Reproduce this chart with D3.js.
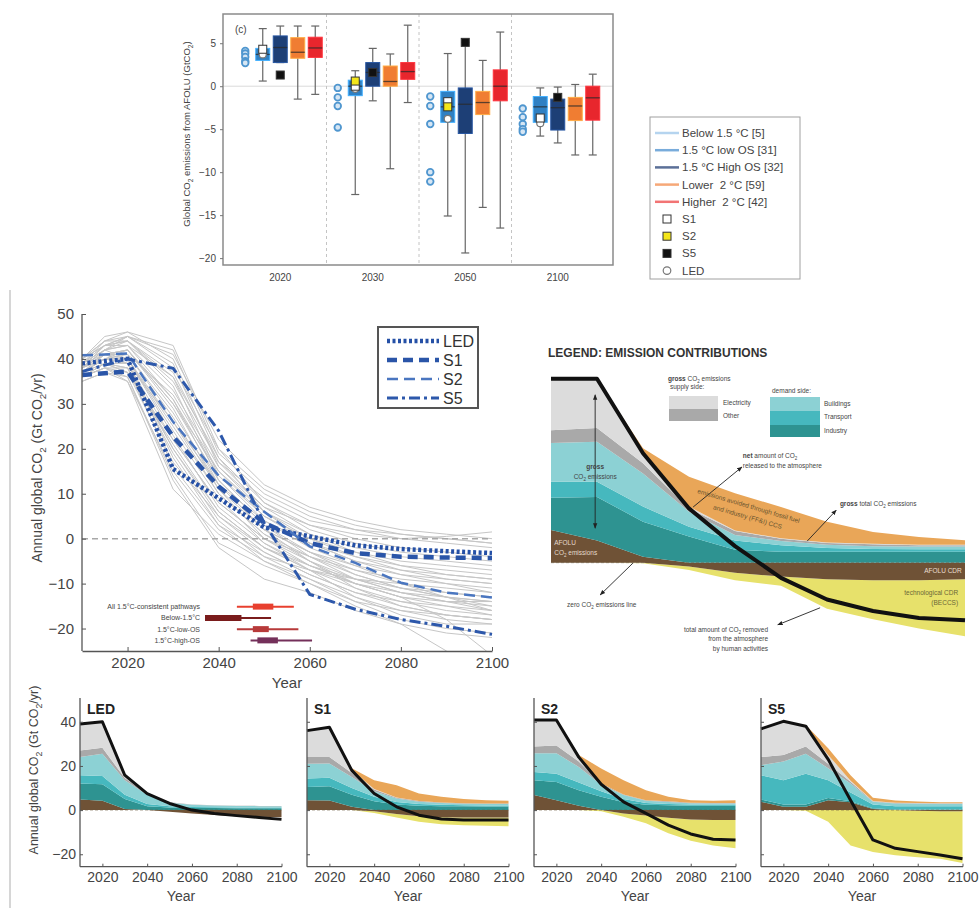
<!DOCTYPE html>
<html>
<head>
<meta charset="utf-8">
<script src="https://cdn.jsdelivr.net/npm/d3@7"></script>
<style>
body { margin: 0; background: #fff; }
text { font-family: "Liberation Sans", Arial, sans-serif; white-space: pre; }
</style>
</head>
<body>
<svg id="fig"></svg>
<script>
// ---------------- data ----------------
// top box plot (AFOLU CO2, GtCO2)
var boxGroups = ["2020", "2030", "2050", "2100"];
var boxCats = ["Below 1.5 °C [5]", "1.5 °C low OS [31]", "1.5 °C High OS [32]", "Lower\u00a0 2 °C [59]", "Higher\u00a0 2 °C [42]"];
// [low whisker, q1, median, q3, high whisker] per group
var lowOS   = [[0.6, 3.0, 3.7, 4.4, 6.7], [-12.6, -1.1, 0.0, 0.7, 1.8], [-15.1, -4.2, -2.4, -0.6, 3.8], [-5.8, -4.2, -2.4, -1.2, -0.2]];
var highOS  = [[2.75, 2.75, 4.5, 5.85, 7.0], [-1.7, 0.0, 1.6, 2.75, 4.4], [-19.4, -5.5, -2.1, -0.2, 5.1], [-6.6, -5.1, -2.5, -1.5, -0.1]];
var lower2  = [[-1.5, 3.25, 3.95, 5.65, 7.0], [-9.6, 0.0, 0.55, 2.35, 3.75], [-14.1, -3.3, -1.9, -0.6, 3.0], [-8.0, -4.0, -2.3, -1.3, 0.2]];
var higher2 = [[-0.95, 3.35, 4.45, 5.7, 7.0], [-1.9, 0.8, 1.7, 2.75, 7.1], [-16.5, -1.7, 0.0, 1.9, 6.3], [-8.0, -3.95, -1.35, 0.0, 1.4]];
var below15 = [[4.1, 3.8, 3.4, 2.9, 2.7], [-0.2, -1.3, -2.3, -4.8], [-1.2, -2.3, -4.4, -10.0, -11.1], [-2.6, -3.6, -4.4, -5.0, -5.3]];
var s1Marks  = [4.3, 0.0, -1.8, -3.7];
var s2Marks  = [null, 0.6, -2.4, null];
var s5Marks  = [1.3, 1.6, 5.1, -1.3];
var ledMarks = [3.7, -0.3, -3.8, -4.3];
var markerNames = ["S1", "S2", "S5", "LED"];

// middle: pathways (Gt CO2/yr)
var decades = [2010, 2020, 2030, 2040, 2050, 2060, 2070, 2080, 2090, 2100];
var grayYears = [2010, 2015, 2020, 2030, 2040, 2050, 2060, 2070, 2080, 2090, 2100];
var grayPathways = [
  [38, 41, 42, 30, 15, 5, 0, -3, -5, -6, -7],
  [39, 43, 45, 38, 20, 8, 2, -1, -3, -4, -5],
  [36, 38, 37, 22, 8, 0, -4, -7, -9, -10, -11],
  [40, 44, 46, 40, 18, 6, -1, -5, -8, -10, -12],
  [37, 40, 41, 28, 12, 2, -3, -6, -8, -9, -10],
  [35, 37, 35, 15, 2, -4, -7, -9, -10, -11, -12],
  [38, 42, 43, 33, 16, 7, 3, 1, 0, 0.5, 1.5],
  [39, 42, 44, 35, 17, 9, 4, 2, 1, 0, -1],
  [36, 39, 38, 20, 5, -3, -8, -12, -14, -15, -16],
  [37, 41, 40, 25, 10, 1, -5, -10, -13, -15, -17],
  [40, 43, 45, 42, 19, 10, 5, 2, 0, -1, -2],
  [38, 40, 39, 18, 3, -5, -10, -14, -16, -17, -18],
  [36, 38, 36, 14, -1, -6, -10, -15, -19, -25, -30],
  [39, 43, 44, 36, 14, 4, -2, -6, -10, -13, -15],
  [37, 40, 42, 30, 13, 3, -4, -9, -12, -14, -14],
  [38, 41, 41, 27, 11, 0, -6, -10, -13, -14, -15],
  [36, 39, 37, 21, 6, -2, -7, -11, -14, -16, -17],
  [40, 45, 46, 43, 20, 11, 6, 3, 1, 0, -1],
  [38, 42, 40, 24, 9, -1, -7, -13, -17, -19, -19],
  [37, 40, 39, 26, 12, 4, -1, -5, -7, -8, -9],
  [39, 42, 43, 31, 14, 5, -1, -4, -6, -7, -8],
  [36, 38, 38, 19, 4, -4, -9, -14, -18, -20, -21],
  [38, 41, 42, 29, 11, 2, -3, -7, -10, -12, -13],
  [37, 39, 38, 16, 3, -3, -8, -12, -15, -17, -18],
  [40, 44, 44, 37, 17, 7, 1, -3, -6, -8, -9],
  [35, 37, 36, 13, -2, -9, -12, -16, -19, -21, -22],
  [38, 42, 45, 39, 16, 6, 0, -4, -7, -9, -10],
  [37, 40, 40, 23, 7, -1, -6, -9, -11, -12, -13],
  [39, 41, 41, 32, 15, 6, 1, -2, -4, -5, -6],
  [36, 39, 39, 20, 6, -2, -6, -10, -13, -18, -26],
  [38, 43, 44, 34, 13, 3, -3, -8, -11, -13, -14],
  [37, 39, 37, 17, 5, -2, -7, -10, -12, -13, -14],
  [40, 43, 43, 36, 18, 8, 3, 0, -2, -3, -4],
  [38, 40, 40, 26, 10, 1, -4, -8, -11, -13, -16],
  [36, 38, 35, 11, 1, -5, -9, -13, -16, -18, -19],
  [39, 44, 45, 41, 22, 12, 7, 4, 2, 1, 0],
  [37, 41, 42, 31, 12, 2, -5, -11, -15, -17, -18],
  [38, 41, 39, 22, 8, 0, -5, -9, -12, -14, -16]
];
var scenarioNames = ["LED", "S1", "S2", "S5"];
var ledPath = [39, 40, 15.5, 9, 2.5, 0.5, -1.5, -2.3, -2.8, -3.2];
var s1Path  = [36.4, 37.2, 22.7, 11.6, 3.5, -1, -3.2, -4, -4.2, -4.3];
var s2Path  = [40.8, 41.2, 26, 14, 6, -1.7, -5.4, -9.8, -12, -13.1];
var s5Path  = [37.2, 40, 37.9, 24, 3.5, -12.4, -15.7, -18, -19.5, -21.3];

// timing of net zero
var timingLabels = ["All 1.5°C-consistent pathways", "Below-1.5°C", "1.5°C-low-OS", "1.5°C-high-OS"];
var timingRange = [[2044, 2056.5], [2037, 2051.5], [2044, 2057.5], [2047, 2060.5]];
var timingIQR   = [[2047.5, 2052], [2037, 2045], [2047.5, 2051], [2048.5, 2053]];

// schematic legend (illustrative values)
var schemNet   = [40, 40, 23.8, 11.8, 3.6, -3.3, -8, -10.5, -12, -12.5];
var schemAfolu = [7.1, 4.8, 1.3, -0.8, -2.2, -3.0, -3.6, -3.8, -3.8, -3.6];
var schemInd   = [7.0, 9.5, 7.6, 5.7, 2.8, 2.4, 2.4, 2.4, 2.4, 2.4];
var schemTra   = [3.5, 3.3, 3.3, 2.1, 2.0, 1.4, 0.8, 0.6, 0.5, 0.5];
var schemBld   = [8.4, 8.7, 7.2, 3.3, 1.2, 0.9, 0.7, 0.6, 0.6, 0.6];
var schemOth   = [2.8, 3.0, 2.2, 0.7, 0.9, 0.5, 0.4, 0.4, 0.3, 0.3];
var schemEle   = [11.1, 10.7, 2.2, 0.4, 0.1, 0.1, 0.1, 0.1, 0.1, 0.1];
var schemCcs   = [0, 0, 1.1, 6.5, 8.1, 6.8, 4.5, 2.6, 1.7, 1.0];
var schemBeccs = [0, 0, -0.1, -0.8, -1.6, -2.0, -6.4, -8.5, -10.5, -12.4];

// bottom panels: LED, S1, S2, S5
var netCO2 = [
  [39, 40, 15.8, 7.5, 3, 0, -1.5, -2.5, -3.3, -4.2],
  [36, 37.5, 18, 7.5, 1.5, -2.3, -4, -4.5, -4.5, -4.5],
  [40.8, 40.8, 24, 11.7, 3.7, -1.5, -6.8, -10.8, -13.2, -13.5],
  [36.8, 40.2, 38, 23, 4.5, -13.5, -17.3, -18.8, -20.3, -22]
];
var afoluBand = [
  [4.8, 4.2, 0.5, 0, -0.8, -1.5, -2.2, -2.8, -3.0, -3.2],
  [4.5, 4.3, 1.5, -0.5, -1.8, -2.8, -3.2, -3.3, -3.3, -3.3],
  [6.8, 4.5, 2, 0, -1.5, -2.5, -3.5, -4.3, -4.5, -4.5],
  [3.8, 1.5, 1.5, 4.5, 3.5, 0.5, 0, -0.3, -0.5, -0.5]
];
var industryBand = [
  [7.2, 7.5, 4.5, 1.8, 1.2, 1.0, 0.9, 0.8, 0.8, 0.8],
  [6, 6.5, 5.5, 4.0, 2.5, 2.0, 1.8, 1.7, 1.6, 1.6],
  [6.7, 8.2, 7, 6, 3.5, 2.4, 2.2, 2.0, 2.0, 2.0],
  [1, 1, 1, 1, 0.5, 0.3, 0.3, 0.3, 0.3, 0.3]
];
var transportBand = [
  [3.8, 3.8, 2.0, 1.0, 0.6, 0.4, 0.4, 0.4, 0.4, 0.4],
  [3.8, 3.8, 3.0, 2.0, 1.2, 0.8, 0.6, 0.5, 0.5, 0.5],
  [3.8, 3.8, 3.5, 2.5, 1.5, 0.8, 0.6, 0.5, 0.5, 0.5],
  [11, 11, 14, 8, 4, 1.7, 1.5, 1.5, 1.5, 1.5]
];
var buildingsBand = [
  [8.2, 10.0, 6.5, 4.2, 1.5, 1.0, 0.8, 0.7, 0.6, 0.6],
  [6.7, 6.5, 5.0, 2.5, 1.5, 1.0, 0.8, 0.7, 0.7, 0.7],
  [8.5, 9.3, 7, 3, 1.8, 1.0, 0.9, 0.6, 0.5, 0.5],
  [4.5, 8.5, 9, 5.5, 4, 1.3, 1.2, 1.1, 1.0, 1.0]
];
var otherBand = [
  [3.0, 2.7, 1.0, 0.4, 0.2, 0.1, 0.1, 0.1, 0.1, 0.1],
  [3, 3, 1.8, 0.8, 0.4, 0.3, 0.2, 0.2, 0.2, 0.2],
  [3, 3.5, 2.5, 0.5, 0.3, 0.3, 0.3, 0.2, 0.2, 0.2],
  [3.7, 3, 3.3, 2, 0.8, 0.2, 0.2, 0.2, 0.2, 0.2]
];
var electricityBand = [
  [12, 11.8, 1.3, 0.1, 0, 0, 0, 0, 0, 0],
  [12, 13.4, 1.2, 0.2, 0.1, 0, 0, 0, 0, 0],
  [12, 11.5, 2, 0, 0, 0, 0, 0, 0, 0],
  [12.8, 15.2, 9.2, 4, 0.5, 0.1, 0.1, 0.1, 0.1, 0.1]
];
var ccsBand = [
  [0, 0, 0, 0, 0, 0, 0, 0, 0, 0],
  [0, 0, 1, 4, 5.6, 3.4, 2.6, 1.9, 1.5, 1.2],
  [0, 0, 1, 6.8, 6.4, 4.5, 2, 1.2, 1, 1.3],
  [0, 0, 0.5, 3, 2.5, 1.5, 1.0, 0.7, 0.5, 0.5]
];
var beccsBand = [
  [0, 0, 0, 0, 0, 0, 0, 0, 0, 0],
  [0, 0, 0, -0.8, -1.5, -2.5, -3.2, -3.6, -3.8, -4],
  [0, 0, 0, -0.5, -1.5, -3.5, -7, -9.6, -11.5, -12.8],
  [0, 0, -0.3, -5.3, -16, -19, -20.5, -21, -21.5, -23.5]
];

// ---------------- setup ----------------
var W = 979, H = 908;
var svg = d3.select("#fig").attr("width", W).attr("height", H);
svg.append("rect").attr("width", W).attr("height", H).attr("fill", "#fff");

var defs = svg.append("defs");
defs.append("marker").attr("id", "arr").attr("viewBox", "0 0 10 10")
  .attr("refX", 9).attr("refY", 5).attr("markerWidth", 6).attr("markerHeight", 6)
  .attr("orient", "auto-start-reverse")
  .append("path").attr("d", "M0,1 L10,5 L0,9 z").attr("fill", "#222");

// text with "_2" as subscript 2
function rich(sel, str, fs) {
  var parts = str.split("_2"), shift = 0;
  parts.forEach(function(p, i) {
    if (p.length) { sel.append("tspan").attr("dy", -shift).text(p); shift = 0; }
    if (i < parts.length - 1) {
      sel.append("tspan").attr("font-size", fs * 0.7).attr("dy", fs * 0.28 - shift).text("2");
      shift = fs * 0.28;
    }
  });
  return sel;
}

function styleAxis(g, col, fs) {
  g.select(".domain").attr("stroke", col).attr("stroke-width", 1.3);
  g.selectAll(".tick line").attr("stroke", col);
  g.selectAll(".tick text").attr("fill", "#444").attr("font-size", fs)
    .attr("font-family", "Liberation Sans, Arial, sans-serif");
}

// ---------------- top box plot ----------------
var gTop = svg.append("g");
var bx = d3.scaleBand().domain(boxGroups).range([234, 604]);
var bin = d3.scaleBand().domain(d3.range(5)).range([-43.75, 43.75]);
var by = d3.scaleLinear().domain([-20.8, 8.4]).range([265, 14]);
function bcx(gi, ci) { return bx(boxGroups[gi]) + bx.bandwidth() / 2 + bin(ci) + bin.bandwidth() / 2; }
var boxColors = ["#5b9fd4", "#2f80c3", "#1d3f76", "#f07d32", "#e8262d"];
var legendLineColors = ["#b5d4ef", "#79acdb", "#5b7098", "#f6a878", "#f27474"];

gTop.append("line").attr("x1", 223).attr("x2", 613).attr("y1", by(0)).attr("y2", by(0))
  .attr("stroke", "#dadada");
boxGroups.slice(1).forEach(function(g) {
  gTop.append("line").attr("x1", bx(g)).attr("x2", bx(g)).attr("y1", 14).attr("y2", 265)
    .attr("stroke", "#c4c4c4").attr("stroke-dasharray", "3,3");
});

var boxStats = [lowOS, highOS, lower2, higher2];
boxStats.forEach(function(stats, k) {
  var ci = k + 1;
  stats.forEach(function(s, gi) {
    var cx = bcx(gi, ci), hw = 7;
    gTop.append("line").attr("x1", cx).attr("x2", cx).attr("y1", by(s[0])).attr("y2", by(s[4]))
      .attr("stroke", "#666").attr("stroke-width", 1.2);
    [s[0], s[4]].forEach(function(v) {
      gTop.append("line").attr("x1", cx - 4).attr("x2", cx + 4).attr("y1", by(v)).attr("y2", by(v))
        .attr("stroke", "#666").attr("stroke-width", 1.2);
    });
    gTop.append("rect").attr("x", cx - hw).attr("width", 2 * hw)
      .attr("y", by(s[3])).attr("height", by(s[1]) - by(s[3]))
      .attr("fill", boxColors[ci]).attr("stroke", d3.color(boxColors[ci]).brighter(0.9)).attr("stroke-width", 1);
    gTop.append("line").attr("x1", cx - hw).attr("x2", cx + hw).attr("y1", by(s[2])).attr("y2", by(s[2]))
      .attr("stroke", "#2a2a2a").attr("stroke-opacity", 0.75).attr("stroke-width", 1.3);
  });
});

below15.forEach(function(vals, gi) {
  gTop.selectAll(null).data(vals).enter().append("circle")
    .attr("cx", bcx(gi, 0)).attr("cy", function(d) { return by(d); }).attr("r", 3.3)
    .attr("fill", "#d6e6f4").attr("stroke", "#4f96cf").attr("stroke-width", 1.8);
});

function square(g, x, y, fill) {
  g.append("rect").attr("x", x - 4).attr("y", y - 4).attr("width", 8).attr("height", 8)
    .attr("fill", fill).attr("stroke", "#333").attr("stroke-width", 1);
}
boxGroups.forEach(function(g, gi) {
  if (ledMarks[gi] !== null) gTop.append("circle").attr("cx", bcx(gi, 1)).attr("cy", by(ledMarks[gi])).attr("r", 3.5)
    .attr("fill", "#fff").attr("stroke", "#777").attr("stroke-width", 1.2);
  if (s1Marks[gi] !== null) square(gTop, bcx(gi, 1), by(s1Marks[gi]), "#fff");
  if (s2Marks[gi] !== null) square(gTop, bcx(gi, 1), by(s2Marks[gi]), "#f4e61a");
  if (s5Marks[gi] !== null) square(gTop, bcx(gi, 2), by(s5Marks[gi]), "#111");
});

gTop.append("rect").attr("x", 223).attr("y", 14).attr("width", 390).attr("height", 251)
  .attr("fill", "none").attr("stroke", "#8a8a8a").attr("stroke-width", 1.5);

var byAxis = gTop.append("g").attr("transform", "translate(223,0)")
  .call(d3.axisLeft(by).tickValues([5, 0, -5, -10, -15, -20]).tickSize(3).tickPadding(4));
byAxis.select(".domain").remove();
styleAxis(byAxis, "#777", 10);

boxGroups.forEach(function(g) {
  gTop.append("text").attr("x", bx(g) + bx.bandwidth() / 2).attr("y", 281)
    .attr("text-anchor", "middle").attr("font-size", 10).attr("fill", "#444").text(g);
});
gTop.append("text").attr("x", 235).attr("y", 33).attr("font-size", 10).attr("fill", "#444").text("(c)");
rich(gTop.append("text").attr("transform", "translate(190,134) rotate(-90)")
  .attr("text-anchor", "middle").attr("font-size", 9.5).attr("fill", "#444"),
  "Global CO_2 emissions from AFOLU (GtCO_2)", 9.5);

// legend
var gLeg = svg.append("g");
gLeg.append("rect").attr("x", 650).attr("y", 117).attr("width", 150).attr("height", 162)
  .attr("fill", "#fff").attr("stroke", "#a0a0a0");
boxCats.forEach(function(c, i) {
  var yy = 133 + i * 17.2;
  gLeg.append("line").attr("x1", 655).attr("x2", 679).attr("y1", yy).attr("y2", yy)
    .attr("stroke", legendLineColors[i]).attr("stroke-width", 2.5);
  gLeg.append("text").attr("x", 682).attr("y", yy + 4).attr("font-size", 11.5).attr("fill", "#444").text(c);
});
markerNames.forEach(function(m, i) {
  var yy = 133 + (i + 5) * 17.2, x = 667;
  if (m === "LED") gLeg.append("circle").attr("cx", x).attr("cy", yy).attr("r", 3.8)
    .attr("fill", "#fff").attr("stroke", "#777").attr("stroke-width", 1.2);
  else square(gLeg, x, yy, m === "S1" ? "#fff" : (m === "S2" ? "#f4e61a" : "#111"));
  gLeg.append("text").attr("x", 682).attr("y", yy + 4).attr("font-size", 11.5).attr("fill", "#444").text(m);
});

// frame line of lower part
svg.append("line").attr("x1", 10).attr("x2", 10).attr("y1", 290).attr("y2", 908)
  .attr("stroke", "#c8c8c8").attr("stroke-width", 1.5);

// ---------------- middle pathways plot ----------------
var gMid = svg.append("g");
var xm = d3.scaleLinear().domain([2010, 2100]).range([82, 492]);
var ym = d3.scaleLinear().domain([-25, 50]).range([651, 314]);
defs.append("clipPath").attr("id", "midclip").append("rect")
  .attr("x", 82).attr("y", 300).attr("width", 412).attr("height", 351);
var gClip = gMid.append("g").attr("clip-path", "url(#midclip)");
var grayLine = d3.line().x(function(d, i) { return xm(grayYears[i]); }).y(function(d) { return ym(d); });
gClip.selectAll(".gp").data(grayPathways).enter().append("path")
  .attr("d", grayLine).attr("fill", "none").attr("stroke", "#c6c6c6").attr("stroke-width", 1);
gClip.append("line").attr("x1", xm(2010)).attr("x2", xm(2100)).attr("y1", ym(0)).attr("y2", ym(0))
  .attr("stroke", "#a8a8a8").attr("stroke-width", 1.5).attr("stroke-dasharray", "6,4");

var scenPaths = [ledPath, s1Path, s2Path, s5Path];
var scenStyle = [
  { c: "#2550a6", w: 4.5, d: "3,2.5" },
  { c: "#2a55a8", w: 4.5, d: "10,6" },
  { c: "#4a76c0", w: 2.5, d: "11,6" },
  { c: "#2d58ab", w: 3, d: "11,4,3,4" }
];
var decLine = d3.line().x(function(d, i) { return xm(decades[i]); }).y(function(d) { return ym(d); });
scenPaths.forEach(function(p, i) {
  gClip.append("path").attr("d", decLine(p)).attr("fill", "none")
    .attr("stroke", scenStyle[i].c).attr("stroke-width", scenStyle[i].w)
    .attr("stroke-dasharray", scenStyle[i].d);
});

var myAxis = gMid.append("g").attr("transform", "translate(82,0)")
  .call(d3.axisLeft(ym).tickValues([-20, -10, 0, 10, 20, 30, 40, 50]).tickSizeInner(-4).tickSizeOuter(0).tickPadding(8)
    .tickFormat(d3.format("d")));
styleAxis(myAxis, "#555", 15);
myAxis.select(".domain").attr("d", "M0," + ym(50) + "V" + ym(-25));
var mxAxis = gMid.append("g").attr("transform", "translate(0,651)")
  .call(d3.axisBottom(xm).tickValues([2020, 2040, 2060, 2080, 2100]).tickSizeInner(-4).tickSizeOuter(0).tickPadding(6)
    .tickFormat(d3.format("d")));
styleAxis(mxAxis, "#555", 15);
gMid.append("text").attr("x", 287).attr("y", 688).attr("text-anchor", "middle")
  .attr("font-size", 15).attr("fill", "#444").text("Year");
rich(gMid.append("text").attr("transform", "translate(42,468) rotate(-90)")
  .attr("text-anchor", "middle").attr("font-size", 14).attr("fill", "#444"),
  "Annual global CO_2 (Gt CO_2/yr)", 14);

// timing bars
var rowScale = d3.scaleBand().domain(timingLabels).range([601, 646]);
var timingColors = ["#e8402f", "#7a1c1c", "#b73a3a", "#74305a"];
timingLabels.forEach(function(l, i) {
  var yy = rowScale(l) + rowScale.bandwidth() / 2;
  gMid.append("line").attr("x1", xm(timingRange[i][0])).attr("x2", xm(timingRange[i][1]))
    .attr("y1", yy).attr("y2", yy).attr("stroke", timingColors[i]).attr("stroke-width", 2);
  gMid.append("line").attr("x1", xm(timingIQR[i][0])).attr("x2", xm(timingIQR[i][1]))
    .attr("y1", yy).attr("y2", yy).attr("stroke", timingColors[i]).attr("stroke-width", 6);
  gMid.append("text").attr("x", 200).attr("y", yy + 2.5).attr("text-anchor", "end")
    .attr("font-size", 7).attr("fill", "#444").text(l);
});

// scenario legend
var gSL = gMid.append("g");
gSL.append("rect").attr("x", 378).attr("y", 327).attr("width", 100).attr("height", 81)
  .attr("fill", "#fff").attr("stroke", "#555").attr("stroke-width", 2);
scenarioNames.forEach(function(n, i) {
  var yy = 341 + i * 19;
  gSL.append("line").attr("x1", 387).attr("x2", 439).attr("y1", yy).attr("y2", yy)
    .attr("stroke", scenStyle[i].c).attr("stroke-width", scenStyle[i].w).attr("stroke-dasharray", scenStyle[i].d);
  gSL.append("text").attr("x", 443).attr("y", yy + 6).attr("font-size", 16).attr("fill", "#333").text(n);
});

// ---------------- stacked emission contributions ----------------
var layerColors = {
  beccs: "#e7e16b", afolu: "#6f5236", industry: "#2e9391", transport: "#46b8be",
  buildings: "#8cd1d4", other: "#a9a9a9", electricity: "#dcdcdc", ccs: "#e9a658"
};
var posKeys = ["industry", "transport", "buildings", "other", "electricity", "ccs"];
function drawStack(g, x, y, p, lw) {
  var rows = decades.map(function(yr, i) {
    var a = p.afolu[i], r = { year: yr };
    var neg = Math.min(a, 0);
    r.beccs = [neg + p.beccs[i], neg];
    r.afolu = a >= 0 ? [0, a] : [a, 0];
    var base = Math.max(a, 0);
    posKeys.forEach(function(k) { r[k] = [base, base + p[k][i]]; base += p[k][i]; });
    return r;
  });
  ["beccs", "afolu"].concat(posKeys).forEach(function(k) {
    var area = d3.area().x(function(d) { return x(d.year); })
      .y0(function(d) { return y(d[k][0]); }).y1(function(d) { return y(d[k][1]); });
    g.append("path").attr("d", area(rows)).attr("fill", layerColors[k]);
  });
  g.append("line").attr("x1", x(2010)).attr("x2", x(2100)).attr("y1", y(0)).attr("y2", y(0))
    .attr("stroke", "#6a5a40").attr("stroke-width", 0.7).attr("stroke-dasharray", "3,2").attr("opacity", 0.7);
  var nl = d3.line().x(function(d, i) { return x(decades[i]); }).y(function(d) { return y(d); });
  g.append("path").attr("d", nl(p.net)).attr("fill", "none").attr("stroke", "#111")
    .attr("stroke-width", lw).attr("stroke-linejoin", "round");
}

// schematic legend
var gS = svg.append("g");
var xs = d3.scaleLinear().domain([2010, 2100]).range([551, 965]);
var ys = d3.scaleLinear().domain([0, 40]).range([562.7, 378.7]);
drawStack(gS, xs, ys, {
  net: schemNet, afolu: schemAfolu, industry: schemInd, transport: schemTra, buildings: schemBld,
  other: schemOth, electricity: schemEle, ccs: schemCcs, beccs: schemBeccs
}, 4);
gS.append("text").attr("x", 548).attr("y", 357).attr("font-size", 12).attr("font-weight", "bold")
  .attr("fill", "#333").text("LEGEND: EMISSION CONTRIBUTIONS");

function note(x, y, str, opt) {
  opt = opt || {};
  var t = gS.append("text").attr("x", x).attr("y", y).attr("font-size", opt.fs || 6.5)
    .attr("fill", opt.fill || "#444").attr("text-anchor", opt.anchor || "start");
  if (opt.rot) t.attr("transform", "rotate(" + opt.rot + "," + x + "," + y + ")");
  if (opt.bold) {
    t.append("tspan").attr("font-weight", "bold").text(opt.bold);
  }
  rich(t, str, opt.fs || 6.5);
  return t;
}
function arrow(x1, y1, x2, y2, both) {
  var l = gS.append("line").attr("x1", x1).attr("y1", y1).attr("x2", x2).attr("y2", y2)
    .attr("stroke", "#222").attr("stroke-width", 0.9).attr("marker-end", "url(#arr)");
  if (both) l.attr("marker-start", "url(#arr)");
}
// swatches
note(668, 381, " CO_2 emissions", { bold: "gross" });
note(670, 389, "supply side:");
gS.append("rect").attr("x", 669).attr("y", 396).attr("width", 49).attr("height", 13).attr("fill", layerColors.electricity);
gS.append("rect").attr("x", 669).attr("y", 409).attr("width", 49).attr("height", 12).attr("fill", layerColors.other);
note(723, 405, "Electricity");
note(723, 418, "Other");
note(772, 393, "demand side:");
gS.append("rect").attr("x", 770).attr("y", 397).attr("width", 50).attr("height", 14).attr("fill", layerColors.buildings);
gS.append("rect").attr("x", 770).attr("y", 411).attr("width", 50).attr("height", 14).attr("fill", layerColors.transport);
gS.append("rect").attr("x", 770).attr("y", 425).attr("width", 50).attr("height", 12).attr("fill", layerColors.industry);
note(824, 406, "Buildings");
note(824, 419, "Transport");
note(824, 433, "Industry");

arrow(xs(2019.6), ys(7.5), xs(2019.6), ys(36.5), true);
note(xs(2019.6), ys(20.4), "", { bold: "gross", anchor: "middle" });
note(xs(2019.6), ys(18.2), "CO_2 emissions", { anchor: "middle" });
note(xs(2010.7), ys(3.8), "AFOLU", { fill: "#e4dacb" });
note(xs(2010.7), ys(1.6), "CO_2 emissions", { fill: "#e4dacb" });
arrow(xs(2040.9), ys(12.1), xs(2051.5), ys(20.8));
note(xs(2051.7), ys(22.8), " amount of CO_2", { bold: "net" });
note(xs(2051.7), ys(20.6), "released to the atmosphere");
note(748, 508, "emissions avoided through fossil fuel", { anchor: "middle", rot: 16.5, fill: "#6a5530" });
note(747, 519, "and industry (FF&I) CCS", { anchor: "middle", rot: 16.5, fill: "#6a5530" });
arrow(xs(2065.7), ys(4.7), xs(2072), ys(11.4));
note(xs(2072.8), ys(12.3), " total CO_2 emissions", { bold: "gross" });
note(xs(2099.3), ys(-2.2), "AFOLU CDR", { anchor: "end", fill: "#e9dfd0" });
note(xs(2098.5), ys(-7), "technological CDR", { anchor: "end", fill: "#6b6838" });
note(xs(2098.5), ys(-9.2), "(BECCS)", { anchor: "end", fill: "#6b6838" });
arrow(xs(2027.8), ys(-0.1), xs(2020.7), ys(-7));
note(xs(2013.5), ys(-9.6), "zero CO_2 emissions line");
arrow(xs(2068.5), ys(-9.8), xs(2059.3), ys(-13.5));
note(xs(2057.2), ys(-15), "total amount of CO_2 removed", { anchor: "end" });
note(xs(2057.2), ys(-17.1), "from the atmosphere", { anchor: "end" });
note(xs(2057.2), ys(-19.3), "by human activities", { anchor: "end" });

// ---------------- bottom panels ----------------
var panelX = [80, 307, 534, 761];
scenarioNames.forEach(function(name, k) {
  var g = svg.append("g");
  var xp = d3.scaleLinear().domain([2010, 2100]).range([panelX[k], panelX[k] + 201.5]);
  var yp = d3.scaleLinear().domain([-25, 50]).range([865.3, 699.7]);
  drawStack(g, xp, yp, {
    net: netCO2[k], afolu: afoluBand[k], industry: industryBand[k], transport: transportBand[k],
    buildings: buildingsBand[k], other: otherBand[k], electricity: electricityBand[k],
    ccs: ccsBand[k], beccs: beccsBand[k]
  }, 3);
  var ax = g.append("g").attr("transform", "translate(" + panelX[k] + ",0)")
    .call(d3.axisLeft(yp).tickValues([-20, 0, 20, 40]).tickSizeInner(-3).tickSizeOuter(0).tickPadding(4)
      .tickFormat(k === 0 ? d3.format("d") : function() { return ""; }));
  styleAxis(ax, "#555", 14);
  ax.select(".domain").attr("d", "M0,698V866.7");
  var axb = g.append("g").attr("transform", "translate(0,866.7)")
    .call(d3.axisBottom(xp).tickValues([2020, 2040, 2060, 2080, 2100]).tickSizeInner(-3).tickSizeOuter(0).tickPadding(5)
      .tickFormat(d3.format("d")));
  styleAxis(axb, "#555", 14);
  axb.select(".domain").attr("d", "M" + panelX[k] + ",0H" + (panelX[k] + 202));
  g.append("text").attr("x", panelX[k] + 101).attr("y", 901).attr("text-anchor", "middle")
    .attr("font-size", 14).attr("fill", "#444").text("Year");
  g.append("text").attr("x", panelX[k] + 7).attr("y", 714).attr("font-size", 14).attr("font-weight", "bold")
    .attr("fill", "#222").text(name);
});
rich(svg.append("text").attr("transform", "translate(38,770) rotate(-90)")
  .attr("text-anchor", "middle").attr("font-size", 12.5).attr("fill", "#444"),
  "Annual global CO_2 (Gt CO_2/yr)", 12.5);
</script>
</body>
</html>
